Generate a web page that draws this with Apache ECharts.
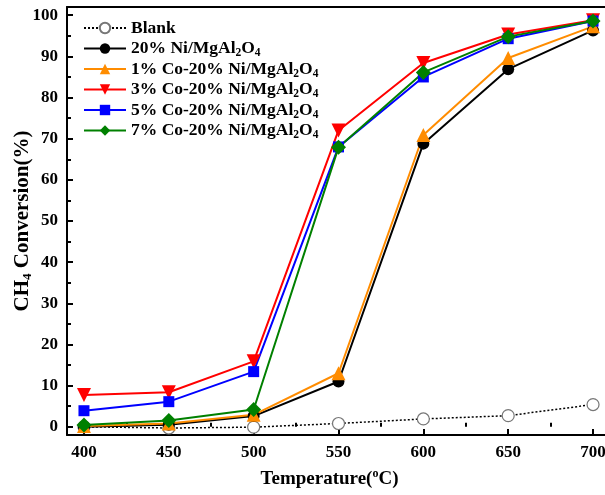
<!DOCTYPE html>
<html><head><meta charset="utf-8">
<script src="https://cdn.jsdelivr.net/npm/echarts@6/dist/echarts.min.js"></script>
<style>html,body{margin:0;padding:0;background:#fff}#c{width:605px;height:495px}</style>
</head><body><div id="c"></div>
<script>
const temps = [400, 450, 500, 550, 600, 650, 700];
const blank = [0, -0.3, -0.1, 0.8, 1.9, 2.7, 5.4];
const ni20 = [0, 0.5, 2.6, 11.0, 68.8, 86.9, 96.3];
const co1 = [0.2, 0.8, 2.9, 13.0, 70.9, 89.6, 97.3];
const co3 = [7.7, 8.4, 15.9, 72.0, 88.4, 95.3, 98.8];
const co5 = [3.9, 6.1, 13.4, 68.0, 85.0, 94.3, 98.6];
const co7 = [0.4, 1.5, 4.2, 67.9, 86.1, 94.8, 98.6];
const xMajor = [400, 450, 500, 550, 600, 650, 700];
const xMinor = [425, 475, 525, 575, 625, 675];
const yMajor = [0, 10, 20, 30, 40, 50, 60, 70, 80, 90, 100];
const yMinor = [5, 15, 25, 35, 45, 55, 65, 75, 85, 95];
const names = ['Blank', '20% Ni/MgAl2O4', '1% Co-20% Ni/MgAl2O4', '3% Co-20% Ni/MgAl2O4', '5% Co-20% Ni/MgAl2O4', '7% Co-20% Ni/MgAl2O4'];

const FONT = 'Liberation Serif';
const chart = echarts.init(document.getElementById('c'), null, {renderer: 'canvas'});
const pairs = a => temps.map((t, i) => [t, a[i]]);
const XMIN = 390, XMAX = 710, YMIN = -2, YMAX = 102;
const gridBox = {left: 67, top: 7, width: 543, height: 428, outerBoundsMode: 'none', containLabel: false};

function mkX(extra) {
  return Object.assign({type: 'value', min: XMIN, max: XMAX, gridIndex: 0, splitLine: {show: false},
    axisLine: {show: false}, axisTick: {show: false}, axisLabel: {show: false}}, extra);
}
function mkY(extra) {
  return Object.assign({type: 'value', min: YMIN, max: YMAX, gridIndex: 0, splitLine: {show: false},
    axisLine: {show: false}, axisTick: {show: false}, axisLabel: {show: false}}, extra);
}
const axisLine = {show: true, onZero: false, lineStyle: {color: '#000', width: 2}};

function fmtName(n) {
  if (n.indexOf('Al2O4') < 0) return '{t|' + n + '}{s| }';
  return '{t|' + n.replace('Al2O4', 'Al}{s|2}{t|O}{s|4}{t|') + '}';
}

function line(name, data, color, symbol, size, extra) {
  return Object.assign({
    name: name, type: 'line', data: pairs(data), xAxisIndex: 0, yAxisIndex: 0,
    symbol: symbol, symbolSize: size, showAllSymbol: true,
    lineStyle: {color: color, width: 2},
    itemStyle: {color: color, borderColor: color, borderWidth: 0},
    z: 3
  }, extra || {});
}

chart.setOption({
  animation: false,
  backgroundColor: '#fff',
  grid: gridBox,
  xAxis: [
    mkX({position: 'bottom', axisLine: axisLine,
      axisTick: {show: true, inside: true, length: 6, lineStyle: {width: 2, color: '#000'}, customValues: xMajor},
      axisLabel: {show: true, customValues: xMajor, margin: 9, fontFamily: FONT, fontWeight: 'bold', fontSize: 17, color: '#000'},
      name: '{t|Temperature(}{p|o}{t|C)}', nameLocation: 'middle', nameGap: 33,
      nameTextStyle: {padding: [0, 18, 0, 0], rich: {t: {fontFamily: FONT, fontWeight: 'bold', fontSize: 19, color: '#000'},
        p: {fontFamily: FONT, fontWeight: 'bold', fontSize: 12, color: '#000', padding: [0, 0, 10, 0]}}}
    }),
    mkX({position: 'bottom', axisTick: {show: true, inside: true, length: 4, lineStyle: {width: 2, color: '#000'}, customValues: xMinor}}),
    mkX({position: 'top', axisLine: axisLine})
  ],
  yAxis: [
    mkY({position: 'left', axisLine: axisLine,
      axisTick: {show: true, inside: true, length: 6, lineStyle: {width: 2, color: '#000'}, customValues: yMajor},
      axisLabel: {show: true, customValues: yMajor, margin: 9, fontFamily: FONT, fontWeight: 'bold', fontSize: 17, color: '#000'},
      name: '{t|CH}{s|4}{t| Conversion(%)}', nameLocation: 'middle', nameGap: 33, nameRotate: 90, nameMoveOverlap: false,
      nameTextStyle: {padding: [0, 0, 0, 0], rich: {t: {fontFamily: FONT, fontWeight: 'bold', fontSize: 21, color: '#000'},
        s: {fontFamily: FONT, fontWeight: 'bold', fontSize: 13, color: '#000', padding: [10, 0, 0, 0]}}}
    }),
    mkY({position: 'left', axisTick: {show: true, inside: true, length: 4, lineStyle: {width: 2, color: '#000'}, customValues: yMinor}}),
    mkY({position: 'right', axisLine: axisLine})
  ],
  legend: {
    orient: 'vertical', left: 78, top: 12, itemWidth: 42, itemHeight: 13, itemGap: -1.5,
    data: names,
    formatter: fmtName,
    textStyle: {rich: {
      t: {fontFamily: FONT, fontWeight: 'bold', fontSize: 17.5, color: '#000', lineHeight: 18},
      s: {fontFamily: FONT, fontWeight: 'bold', fontSize: 11.5, color: '#000', lineHeight: 8, padding: [10, 0, 0, 0]}
    }}
  },
  series: [
    line(names[0], blank, '#000', 'circle', 12, {
      lineStyle: {color: '#000', width: 1.5, type: [2, 2]},
      itemStyle: {color: '#fff', borderColor: '#777', borderWidth: 1.2}, z: 2}),
    line(names[1], ni20, '#000', 'circle', 12),
    line(names[2], co1, '#FF8C00', 'triangle', 14),
    line(names[3], co3, '#FF0000', 'triangle', 14, {symbolRotate: 180}),
    line(names[4], co5, '#0000FF', 'rect', 11),
    line(names[5], co7, '#008000', 'diamond', 15)
  ]
});
</script></body></html>
